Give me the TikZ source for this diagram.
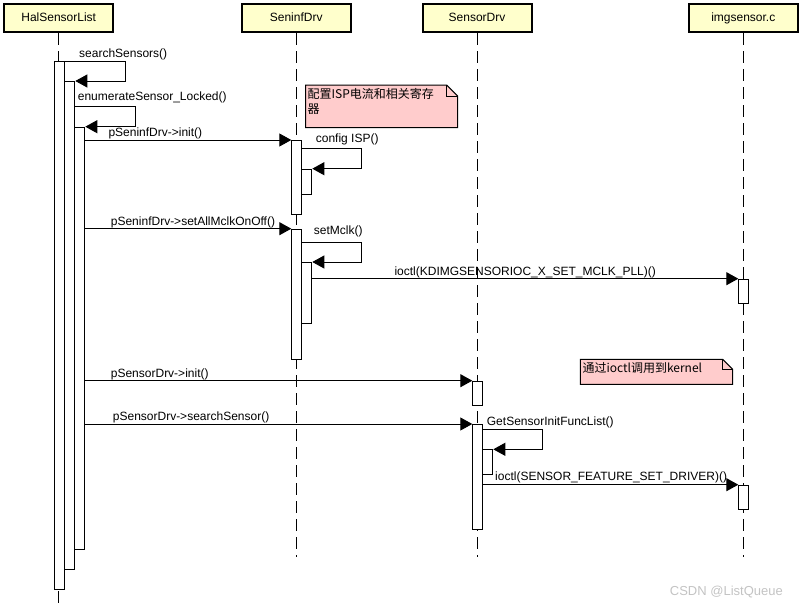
\documentclass[tikz,border=0pt]{standalone}
\usepackage{fontspec}
\setmainfont{Liberation Sans}
\newfontfamily\cjk{Noto Sans CJK SC}
\usetikzlibrary{arrows.meta}

\definecolor{headfill}{RGB}{255,255,204}
\definecolor{notefill}{RGB}{255,204,204}
\definecolor{markgray}{RGB}{195,195,195}

\tikzset{
    head/.style = {draw, line width=2pt, fill=headfill, minimum width=109pt, minimum height=28pt,
        inner sep=0pt, text height=9pt, text depth=3pt, font=\fontsize{12}{14}\selectfont},
    life/.style = {line width=1pt, dash pattern=on 12pt off 6pt},
    act/.style = {draw, fill=white, line width=1pt, minimum width=10pt, inner sep=0pt, anchor=north west},
    msg/.style = {line width=1pt, -{Triangle[length=12pt,width=13pt]}},
    lbl/.style = {anchor=base west, inner sep=0pt, font=\fontsize{12}{14}\selectfont},
    notebox/.style = {draw, fill=notefill, line width=1pt},
    notetext/.style = {inner sep=0pt, align=left, font=\cjk\fontsize{12}{15.5}\selectfont},
}

\begin{document}
\begin{tikzpicture}[x=1pt, y=-1pt]

        \useasboundingbox (0,0) rectangle (800,605);

        \node[head] (hal) at (58.7,18) {HalSensorList};
        \node[head] (seninf) at (296.2,18) {SeninfDrv};
        \node[head] (sensor) at (477,18) {SensorDrv};
        \node[head] (img) at (743.3,18) {imgsensor.c};

        \draw[life] (hal.south) -- (hal.south |- 0,603);
        \draw[life] (seninf.south) -- (seninf.south |- 0,557);
        \draw[life] (sensor.south) -- (sensor.south |- 0,557);
        \draw[life] (img.south) -- (img.south |- 0,557);

        \node[notebox, minimum width=151pt, minimum height=41.7pt, inner sep=0pt, anchor=north west, draw=none, fill=none] (n1) at (305.7,85) {};
        \draw[notebox] (n1.north west) -- ([xshift=-11pt]n1.north east) -- ([yshift=-11pt]n1.north east) -- (n1.south east) -- (n1.south west) -- cycle;
        \draw[line width=1pt] ([xshift=-11pt]n1.north east) -- ([xshift=-11pt,yshift=-11pt]n1.north east) -- ([yshift=-11pt]n1.north east);
        \node[notetext, anchor=north west] (t1) at (307.5,88) {配置ISP电流和相关寄存\\器};

        \node[notebox, minimum width=151.4pt, minimum height=24pt, inner sep=0pt, anchor=north west, draw=none, fill=none] (n2) at (580.3,359.3) {};
        \draw[notebox] (n2.north west) -- ([xshift=-10pt]n2.north east) -- ([yshift=-10pt]n2.north east) -- (n2.south east) -- (n2.south west) -- cycle;
        \draw[line width=1pt] ([xshift=-10pt]n2.north east) -- ([xshift=-10pt,yshift=-10pt]n2.north east) -- ([yshift=-10pt]n2.north east);
        \node[notetext, anchor=base west] (t2) at (582.3,372.3) {通过ioctl调用到kernel};

        \node[act, minimum height=528.3pt] (h1) at (54.3,61) {};
        \node[act, minimum height=488.3pt] (h2) at (64.3,81) {};
        \node[act, minimum height=422.6pt] (h3) at (74.3,126.7) {};

        \node[act, minimum height=74.3pt] (s1) at (291.3,140) {};
        \node[act, minimum height=25.6pt] (s2) at (301.3,168.7) {};
        \node[act, minimum height=130pt] (s3) at (291.3,228.7) {};
        \node[act, minimum height=61.3pt] (s4) at (301.3,262) {};

        \node[act, minimum height=24.6pt] (d1) at (472.3,380.7) {};
        \node[act, minimum height=105.3pt] (d2) at (472.3,424) {};
        \node[act, minimum height=25pt] (d3) at (482.3,449.3) {};

        \node[act, minimum height=24.6pt] (c1) at (738.3,278.7) {};
        \node[act, minimum height=24.6pt] (c2) at (738.3,484.7) {};

        \draw[msg] (h1.north east) -- ++(60,0) |- (h2.north east);
        \draw[msg] ([yshift=-25.7pt]h2.north east) -- ++(60.4,0) |- (h3.north east);
        \draw[msg] (h3.east |- s1.north) -- (s1.north west);
        \draw[msg] ([yshift=-8.7pt]s1.north east) -- ++(59.4,0) |- (s2.north east);
        \draw[msg] (h3.east |- s3.north) -- (s3.north west);
        \draw[msg] ([yshift=-13.3pt]s3.north east) -- ++(59.4,0) |- (s4.north east);
        \draw[msg] (s4.east |- c1.north) -- (c1.north west);
        \draw[msg] (h3.east |- d1.north) -- (d1.north west);
        \draw[msg] (h3.east |- d2.north) -- (d2.north west);
        \draw[msg] ([yshift=-5.3pt]d2.north east) -- ++(59.4,0) |- (d3.north east);
        \draw[msg] (d2.east |- c2.north) -- (c2.north west);

        \node[lbl] (m1) at (79,57.3) {searchSensors()};
        \node[lbl] (m2) at (77.7,100) {enumerateSensor\_Locked()};
        \node[lbl] (m3) at (108.3,136.5) {pSeninfDrv->init()};
        \node[lbl] (m4) at (315.7,142.7) {config ISP()};
        \node[lbl] (m5) at (110.7,225) {pSeninfDrv->setAllMclkOnOff()};
        \node[lbl] (m6) at (313.7,234.3) {setMclk()};
        \node[lbl] (m7) at (394.3,275) {ioctl(KDIMGSENSORIOC\_X\_SET\_MCLK\_PLL)()};
        \node[lbl] (m8) at (110.7,377.3) {pSensorDrv->init()};
        \node[lbl] (m9) at (112.7,420.7) {pSensorDrv->searchSensor()};
        \node[lbl] (m10) at (486.7,425.7) {GetSensorInitFuncList()};
        \node[lbl] (m11) at (495,480.7) {ioctl(SENSOR\_FEATURE\_SET\_DRIVER)()};

        \node[anchor=base east, inner sep=0pt, text=markgray, font=\fontsize{13}{15}\selectfont] (wm) at (783,595) {CSDN @ListQueue};

\end{tikzpicture}
\end{document}
